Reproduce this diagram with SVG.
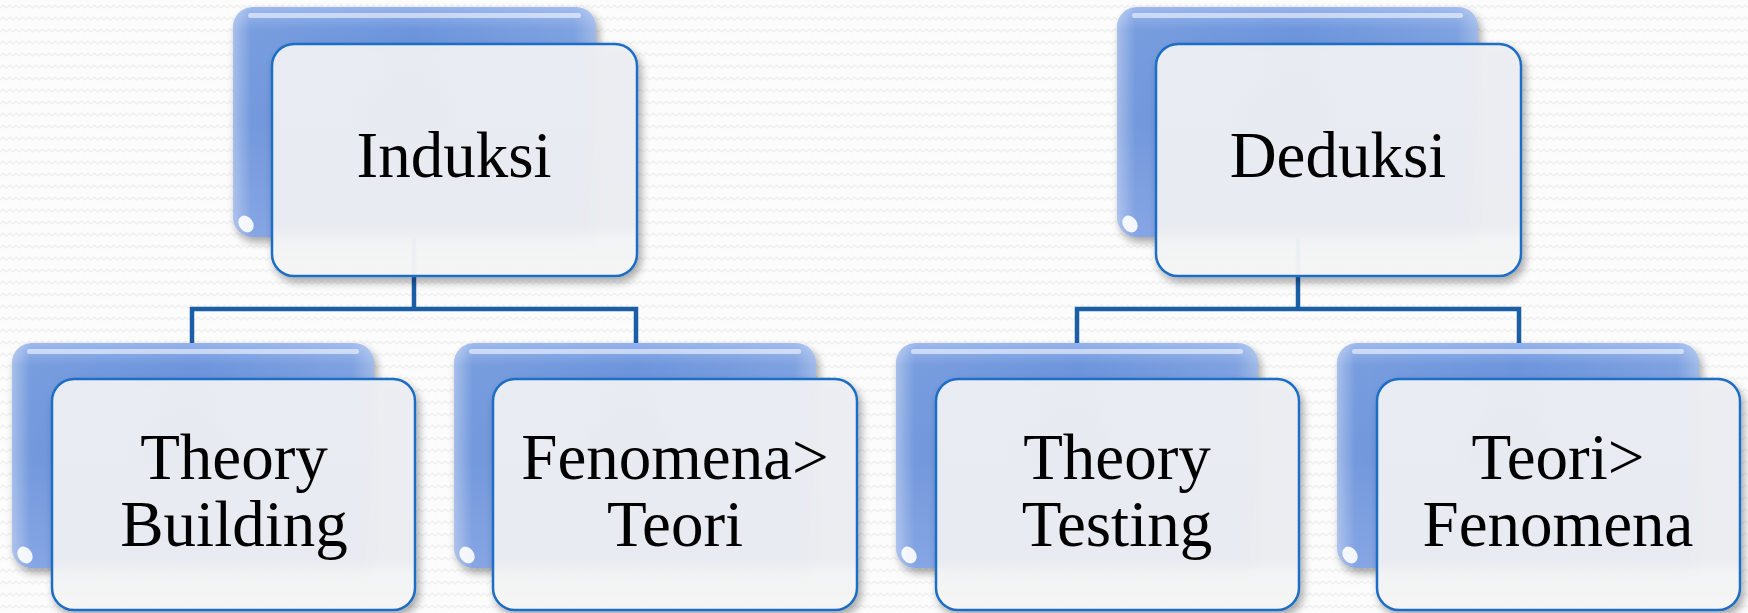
<svg xmlns="http://www.w3.org/2000/svg" width="1748" height="613" viewBox="0 0 1748 613">
<defs>
  <pattern id="bgpat" width="13" height="12" patternUnits="userSpaceOnUse">
    <rect width="13" height="12" fill="#fcfcfc"/>
    <path d="M0 8 L3.25 5 L6.5 8 L9.75 5 L13 8" fill="none" stroke="#efefef" stroke-width="1.2"/>
  </pattern>
  <linearGradient id="backV" x1="0" y1="0" x2="0" y2="1">
    <stop offset="0" stop-color="#95b3ec"/>
    <stop offset="0.1" stop-color="#6d95dc"/>
    <stop offset="0.5" stop-color="#6790d9"/>
    <stop offset="1" stop-color="#7c9ee2"/>
  </linearGradient>
  <linearGradient id="backH" x1="0" y1="0" x2="1" y2="0">
    <stop offset="0" stop-color="#ffffff" stop-opacity="0.4"/>
    <stop offset="0.05" stop-color="#ffffff" stop-opacity="0.08"/>
    <stop offset="0.5" stop-color="#ffffff" stop-opacity="0"/>
    <stop offset="0.94" stop-color="#ffffff" stop-opacity="0.12"/>
    <stop offset="1" stop-color="#ffffff" stop-opacity="0.35"/>
  </linearGradient>
  <linearGradient id="frontV" x1="0" y1="0" x2="0" y2="1">
    <stop offset="0" stop-color="#edeff3"/>
    <stop offset="0.78" stop-color="#eceef2"/>
    <stop offset="0.84" stop-color="#f3f4f5"/>
    <stop offset="1" stop-color="#f6f6f6"/>
  </linearGradient>
  <filter id="shadow" x="-10%" y="-10%" width="125%" height="130%">
    <feGaussianBlur in="SourceAlpha" stdDeviation="4"/>
    <feOffset dx="3" dy="5" result="b"/>
    <feComponentTransfer><feFuncA type="linear" slope="0.35"/></feComponentTransfer>
    <feMerge><feMergeNode/><feMergeNode in="SourceGraphic"/></feMerge>
  </filter>
  <style>
    .back { fill: url(#backV); }
    .backhl { fill: url(#backH); }
    .topline { fill: #ffffff; opacity: 0.55; }
    .glint { fill: #ffffff; opacity: 0.9; }
    .front { fill: url(#frontV); fill-opacity: 0.96; stroke: #1d6dc4; stroke-width: 2.5; }
    .conn { fill: none; stroke: #1a5ea6; stroke-width: 4.5; stroke-linejoin: miter; }
    .lbl { font-family: "Liberation Serif", "Times New Roman", serif; font-size: 65px; fill: #000000; text-anchor: middle; }
  </style>
</defs>
<rect width="1748" height="613" fill="url(#bgpat)"/>

<g id="connectors">
  <path class="conn" d="M414 237 V309 M192 343 V309 H636 V343"/>
  <path class="conn" d="M1298 237 V309 M1077 343 V309 H1519 V343"/>
</g>

<g id="node-induksi">
  <g filter="url(#shadow)">
    <rect class="back" x="233" y="7" width="363" height="230" rx="20"/>
  </g>
  <rect class="backhl" x="233" y="7" width="363" height="230" rx="20"/>
  <rect class="topline" x="248" y="13" width="333" height="5" rx="2.5"/>
  <ellipse class="glint" cx="246" cy="224" rx="7" ry="9" transform="rotate(-35 246 224)"/>
  <rect class="front" x="272" y="44" width="365" height="232" rx="22" filter="url(#shadow)"/>
  <text class="lbl" x="454" y="177">Induksi</text>
</g>

<g id="node-theory-building">
  <g filter="url(#shadow)">
    <rect class="back" x="12" y="343" width="362" height="225" rx="20"/>
  </g>
  <rect class="backhl" x="12" y="343" width="362" height="225" rx="20"/>
  <rect class="topline" x="27" y="349" width="332" height="5" rx="2.5"/>
  <ellipse class="glint" cx="25" cy="555" rx="7" ry="9" transform="rotate(-35 25 555)"/>
  <rect class="front" x="52" y="379" width="363" height="231" rx="22" filter="url(#shadow)"/>
  <text class="lbl" x="234" y="479">Theory</text>
  <text class="lbl" x="234" y="546">Building</text>
</g>

<g id="node-fenomena-teori">
  <g filter="url(#shadow)">
    <rect class="back" x="454" y="343" width="362" height="225" rx="20"/>
  </g>
  <rect class="backhl" x="454" y="343" width="362" height="225" rx="20"/>
  <rect class="topline" x="469" y="349" width="332" height="5" rx="2.5"/>
  <ellipse class="glint" cx="467" cy="555" rx="7" ry="9" transform="rotate(-35 467 555)"/>
  <rect class="front" x="493" y="379" width="364" height="231" rx="22" filter="url(#shadow)"/>
  <text class="lbl" x="675" y="479">Fenomena&gt;</text>
  <text class="lbl" x="675" y="546">Teori</text>
</g>

<g id="node-deduksi">
  <g filter="url(#shadow)">
    <rect class="back" x="1117" y="7" width="361" height="230" rx="20"/>
  </g>
  <rect class="backhl" x="1117" y="7" width="361" height="230" rx="20"/>
  <rect class="topline" x="1132" y="13" width="331" height="5" rx="2.5"/>
  <ellipse class="glint" cx="1130" cy="224" rx="7" ry="9" transform="rotate(-35 1130 224)"/>
  <rect class="front" x="1156" y="44" width="365" height="232" rx="22" filter="url(#shadow)"/>
  <text class="lbl" x="1338" y="177">Deduksi</text>
</g>

<g id="node-theory-testing">
  <g filter="url(#shadow)">
    <rect class="back" x="896" y="343" width="362" height="225" rx="20"/>
  </g>
  <rect class="backhl" x="896" y="343" width="362" height="225" rx="20"/>
  <rect class="topline" x="911" y="349" width="332" height="5" rx="2.5"/>
  <ellipse class="glint" cx="909" cy="555" rx="7" ry="9" transform="rotate(-35 909 555)"/>
  <rect class="front" x="936" y="379" width="363" height="231" rx="22" filter="url(#shadow)"/>
  <text class="lbl" x="1117" y="479">Theory</text>
  <text class="lbl" x="1117" y="546">Testing</text>
</g>

<g id="node-teori-fenomena">
  <g filter="url(#shadow)">
    <rect class="back" x="1337" y="343" width="362" height="225" rx="20"/>
  </g>
  <rect class="backhl" x="1337" y="343" width="362" height="225" rx="20"/>
  <rect class="topline" x="1352" y="349" width="332" height="5" rx="2.5"/>
  <ellipse class="glint" cx="1350" cy="555" rx="7" ry="9" transform="rotate(-35 1350 555)"/>
  <rect class="front" x="1377" y="379" width="363" height="231" rx="22" filter="url(#shadow)"/>
  <text class="lbl" x="1558" y="479">Teori&gt;</text>
  <text class="lbl" x="1558" y="546">Fenomena</text>
</g>
</svg>
